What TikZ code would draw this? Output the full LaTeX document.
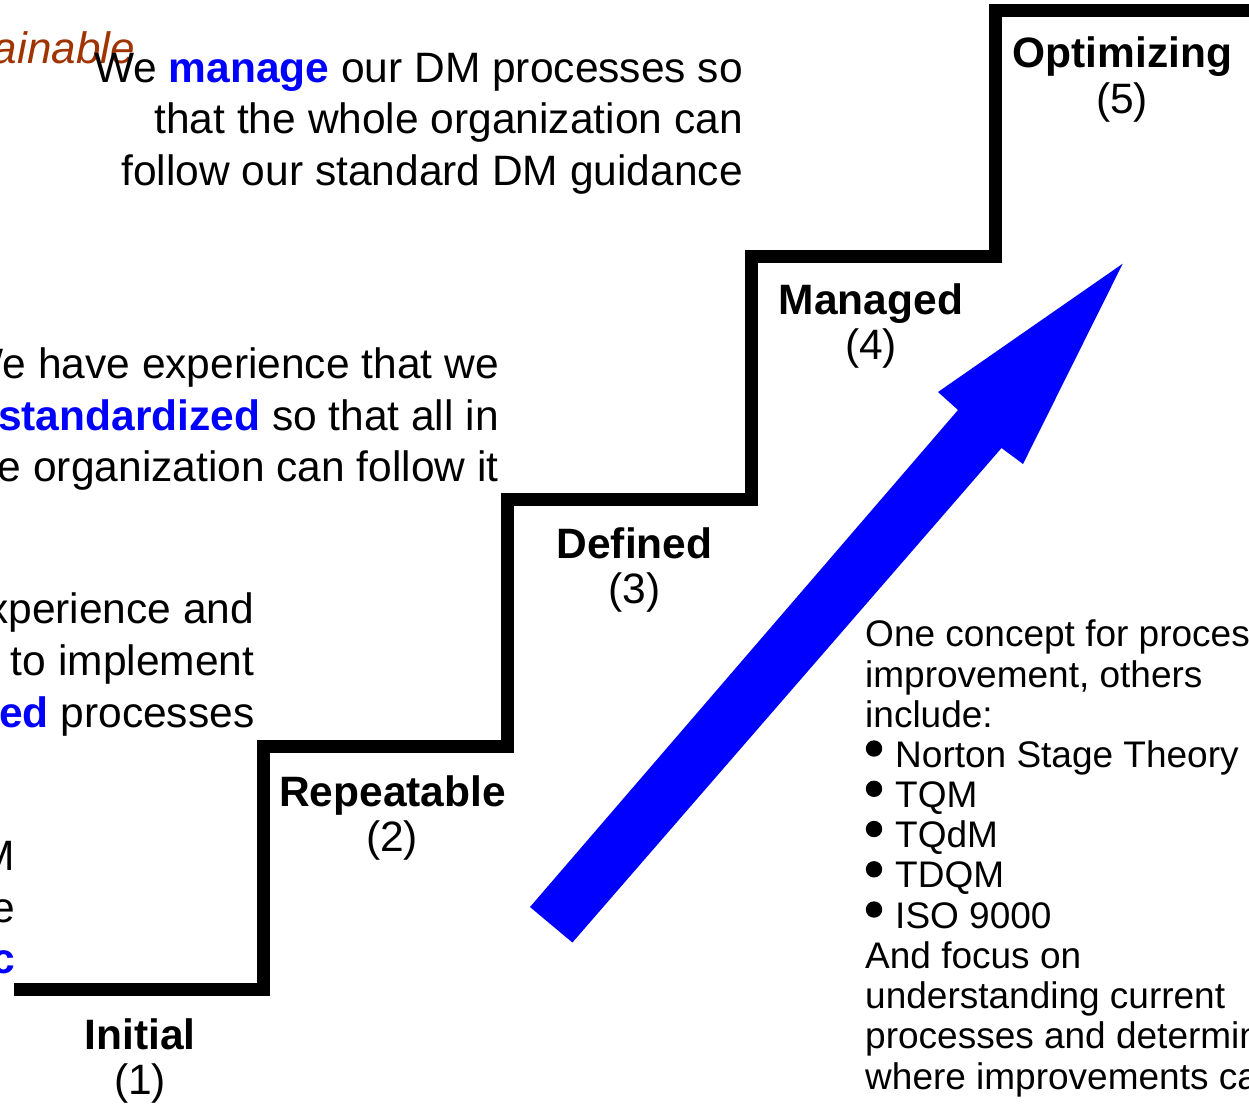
\documentclass[tikz,border=0pt]{standalone}
\usepackage{fontspec}
\setmainfont{Liberation Sans}
\definecolor{keyblue}{RGB}{0,0,255}
\definecolor{rust}{RGB}{160,52,0}
\tikzset{
  body/.style={inner sep=0pt, font=\fontsize{42.5}{51}\selectfont},
  stage/.style={inner sep=0pt, font=\fontsize{42.5}{51}\selectfont\bfseries},
  level/.style={inner sep=0pt, font=\fontsize{42.5}{51}\selectfont},
  note/.style={inner sep=0pt, font=\fontsize{37}{40}\selectfont},
  stair/.style={line width=13pt, line join=miter, line cap=butt},
  dot/.style={fill=black},
}
\newcommand{\kw}[1]{\textcolor{keyblue}{\bfseries #1}}
\begin{document}
\begin{tikzpicture}[x=1pt,y=-1pt]
  \useasboundingbox (0,0) rectangle (1249,1104);
  \clip (0,0) rectangle (1249,1104);

  % staircase
  \draw[stair] (14,989.5) -| (263,746) -| (507,499) -| (751,256) -| (995,10) -- (1262,10);

  % rising arrow
  \fill[keyblue] (530,907) -- (958,410) -- (938,392) -- (1122.7,263.7)
    -- (1023,464) -- (1001.5,448) -- (572.4,942.5) -- cycle;

  % stage names
  \node[stage, anchor=base] (s1) at (140,1049) {Initial};
  \node[level, anchor=base] (n1) at (140,1094) {(1)};
  \node[stage, anchor=base] (s2) at (392.5,806) {Repeatable};
  \node[level, anchor=base] (n2) at (392,851) {(2)};
  \node[stage, anchor=base] (s3) at (634.5,558) {Defined};
  \node[level, anchor=base] (n3) at (634.5,603) {(3)};
  \node[stage, anchor=base] (s4) at (871,314) {Managed};
  \node[level, anchor=base] (n4) at (871,359) {(4)};
  \node[stage, anchor=base] (s5) at (1122.5,67) {Optimizing};
  \node[level, anchor=base] (n5) at (1122,113) {(5)};

  % descriptions of the stages
  \node[inner sep=0pt, anchor=base east, font=\fontsize{44}{51}\selectfont\itshape, text=rust] (sus) at (135,63) {Sustainable};

  \node[body, anchor=base east] (d5a) at (743,82) {We \kw{manage} our DM processes so};
  \node[body, anchor=base east] (d5b) at (743,133.5) {that the whole organization can};
  \node[body, anchor=base east] (d5c) at (743,185) {follow our standard DM guidance};

  \node[body, anchor=base east] (d4a) at (499,378) {We have experience that we};
  \node[body, anchor=base east] (d4b) at (499,430) {\kw{standardized} so that all in};
  \node[body, anchor=base east] (d4c) at (499,481.5) {the organization can follow it};

  \node[body, anchor=base east] (d3a) at (254.5,623) {We have experience and};
  \node[body, anchor=base east] (d3b) at (254.5,675) {are able to implement};
  \node[body, anchor=base east] (d3c) at (254.5,727) {\kw{defined} processes};

  \node[body, anchor=base east] (d2a) at (15,870) {We have no DM};
  \node[body, anchor=base east] (d2b) at (15,922) {processes in place};
  \node[body, anchor=base east] (d2c) at (15,973) {\kw{ad hoc}};

  % side note
  \node[note, anchor=base west] (t1) at (865,646.7) {One concept for process};
  \node[note, anchor=base west] (t2) at (865,687) {improvement, others};
  \node[note, anchor=base west] (t3) at (865,727) {include:};
  \node[note, anchor=base west] (b1) at (895,767) {Norton Stage Theory};
  \node[note, anchor=base west] (b2) at (895,807.3) {TQM};
  \node[note, anchor=base west] (b3) at (895,847.5) {TQdM};
  \node[note, anchor=base west] (b4) at (895,887.8) {TDQM};
  \node[note, anchor=base west] (b5) at (895,928) {ISO 9000};
  \node[note, anchor=base west] (t4) at (865,968.3) {And focus on};
  \node[note, anchor=base west] (t5) at (865,1008.5) {understanding current};
  \node[note, anchor=base west] (t6) at (865,1048.8) {processes and determine};
  \node[note, anchor=base west] (t7) at (865,1089) {where improvements can be made};

  % bullets
  \foreach \b in {b1,b2,b3,b4,b5}
    \fill[dot] ([shift={(-21,-18.5)}]\b.base west) circle[radius=8.2];
\end{tikzpicture}
\end{document}
